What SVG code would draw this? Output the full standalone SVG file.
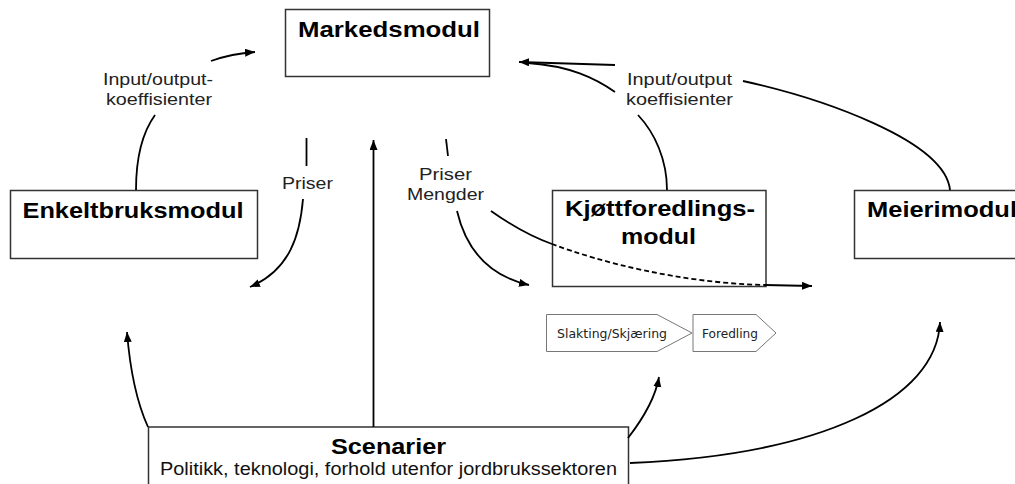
<svg xmlns="http://www.w3.org/2000/svg" width="1015" height="484" viewBox="0 0 1015 484">
<style>
.box{fill:#fff;stroke:#333;stroke-width:1.5}
.title{font-family:"Liberation Sans",Arial,sans-serif;font-weight:bold;font-size:22px;fill:#000}
.lbl{font-family:"Liberation Sans",Arial,sans-serif;font-size:17px;fill:#222}
.sub{font-family:"Liberation Sans",Arial,sans-serif;font-size:17.5px;fill:#111}
.step{fill:#fff;stroke:#777;stroke-width:1}
.steptxt{font-family:"DejaVu Sans",Verdana,sans-serif;font-size:12px;fill:#222}
.c{fill:none;stroke:#000;stroke-width:1.8}
.arr{marker-end:url(#ah)}
.dash{stroke-dasharray:5,3}
</style>
<defs>
<marker id="ah" markerUnits="userSpaceOnUse" markerWidth="12" markerHeight="10" refX="10" refY="4" orient="auto">
<path d="M0,0 L10,4 L0,8 Z" fill="#000"/>
</marker>
</defs>
<rect width="1015" height="484" fill="#fff"/>

<g id="markedsmodul">
<rect class="box" x="285.5" y="9.5" width="204" height="67"/>
<text class="title" x="298" y="36.5" textLength="182" lengthAdjust="spacingAndGlyphs">Markedsmodul</text>
</g>

<g id="enkeltbruksmodul">
<rect class="box" x="10.5" y="190.5" width="247" height="68"/>
<text class="title" x="22.5" y="217.5" textLength="221" lengthAdjust="spacingAndGlyphs">Enkeltbruksmodul</text>
</g>

<g id="kjottforedlingsmodul">
<rect class="box" x="552.5" y="190.5" width="213.5" height="96"/>
<text class="title" x="565" y="216" textLength="190" lengthAdjust="spacingAndGlyphs">Kjøttforedlings-</text>
<text class="title" x="621" y="244" textLength="75" lengthAdjust="spacingAndGlyphs">modul</text>
</g>

<g id="meierimodul">
<rect class="box" x="854.5" y="190.5" width="180" height="68"/>
<text class="title" x="867" y="216.5" textLength="150" lengthAdjust="spacingAndGlyphs">Meierimodul</text>
</g>

<g id="verdikjede">
<path class="step" d="M546.5,314.5 L657,314.5 L692,333 L657,351.5 L546.5,351.5 Z"/>
<text class="steptxt" x="557" y="338" textLength="110" lengthAdjust="spacingAndGlyphs">Slakting/Skjæring</text>
<path class="step" d="M693,314.5 L756,314.5 L776,333 L756,351.5 L693,351.5 Z"/>
<text class="steptxt" x="702" y="338" textLength="56" lengthAdjust="spacingAndGlyphs">Foredling</text>
</g>

<g id="scenarier">
<rect class="box" x="148.5" y="427" width="480" height="70"/>
<text class="title" x="331" y="453.5" textLength="115" lengthAdjust="spacingAndGlyphs">Scenarier</text>
<text class="sub" x="160" y="475" textLength="457" lengthAdjust="spacingAndGlyphs">Politikk, teknologi, forhold utenfor jordbrukssektoren</text>
</g>

<g id="connectors">
<!-- Enkeltbruksmodul -> Markedsmodul -->
<path class="c" d="M136,190 C136,160 142,133 155,115"/>
<path class="c arr" d="M211,61 C225,56 240,53 255,52"/>
<text class="lbl" x="103" y="85" textLength="110" lengthAdjust="spacingAndGlyphs">Input/output-</text>
<text class="lbl" x="106" y="105" textLength="106" lengthAdjust="spacingAndGlyphs">koeffisienter</text>

<!-- Markedsmodul -> Enkeltbruksmodul (Priser) -->
<path class="c" d="M306.5,138 L306.5,166"/>
<text class="lbl" x="282" y="189" textLength="51" lengthAdjust="spacingAndGlyphs">Priser</text>
<path class="c arr" d="M303,199 C300,235 290,270 250,287"/>

<!-- Scenarier -> Markedsmodul -->
<path class="c arr" d="M373.5,427 L373.5,140"/>

<!-- Markedsmodul -> Kjøtt / Meieri (Priser, Mengder) -->
<path class="c" d="M446,139 L448,156"/>
<text class="lbl" x="419" y="180" textLength="53" lengthAdjust="spacingAndGlyphs">Priser</text>
<text class="lbl" x="407" y="200" textLength="77" lengthAdjust="spacingAndGlyphs">Mengder</text>
<path class="c arr" d="M457,211 C465,245 485,275 529,285"/>
<path class="c" d="M491,211 C515,228 535,238 552,244"/>
<path class="c dash" d="M552,244 C600,262 680,283 765,285"/>
<path class="c arr" d="M765,285 L812,286"/>

<!-- Kjøttforedlingsmodul / Meierimodul -> Markedsmodul -->
<path class="c" d="M667,190 C667,160 655,133 638,115"/>
<path class="c" d="M615,92 C595,78 570,66 528,63"/>
<path class="c" d="M950,190 C945,140 820,98 743,81"/>
<path class="c arr" d="M615,65 L519,62"/>
<text class="lbl" x="627" y="85" textLength="105" lengthAdjust="spacingAndGlyphs">Input/output</text>
<text class="lbl" x="626" y="105" textLength="107" lengthAdjust="spacingAndGlyphs">koeffisienter</text>

<!-- Scenarier -> modules -->
<path class="c arr" d="M148,427 C138,405 130,370 127,332"/>
<path class="c arr" d="M628,438 C642,420 655,400 659,377"/>
<path class="c arr" d="M630,463 C820,455 937,400 940,322"/>
</g>
</svg>
